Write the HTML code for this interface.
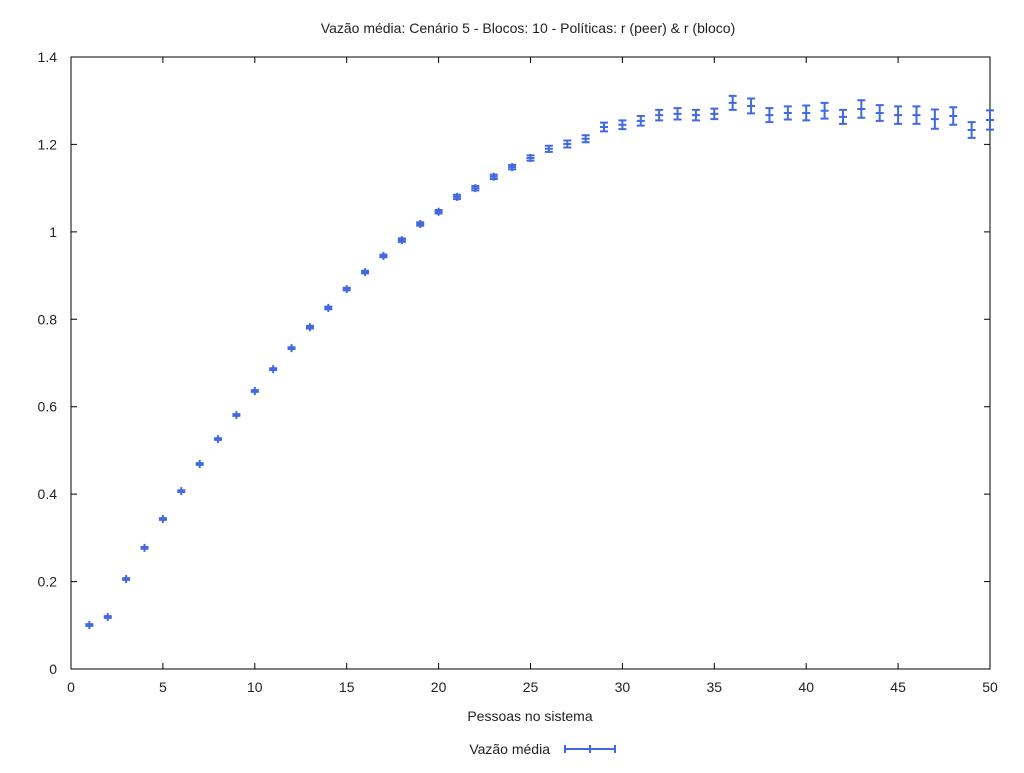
<!DOCTYPE html>
<html><head><meta charset="utf-8"><style>
body{margin:0;background:#fff}
svg text{font-family:"Liberation Sans",sans-serif;font-size:14px;fill:#222}
</style></head><body>
<svg id="c" width="1024" height="768" xmlns="http://www.w3.org/2000/svg">
<text x="528" y="33" text-anchor="middle">Vazão média: Cenário 5 - Blocos: 10 - Políticas: r (peer) &amp; r (bloco)</text>
<rect x="71" y="57" width="919" height="612" fill="none" stroke="#000" stroke-width="1"/>
<g id="ticks"></g>
<g id="marks"></g>
<text x="530" y="721" text-anchor="middle">Pessoas no sistema</text>
<g>
<text x="550" y="754" text-anchor="end">Vazão média</text>
<path d="M565 749H615M565 745V753M615 745V753M590 745V753" stroke="#4169e1" stroke-width="2" fill="none"/>
</g>
</svg>
<script>
const xs=[1,2,3,4,5,6,7,8,9,10,11,12,13,14,15,16,17,18,19,20,21,22,23,24,25,26,27,28,29,30,31,32,33,34,35,36,37,38,39,40,41,42,43,44,45,46,47,48,49,50];
const means=[0.1007,0.119,0.206,0.277,0.343,0.407,0.469,0.526,0.581,0.636,0.686,0.734,0.782,0.826,0.869,0.908,0.945,0.981,1.018,1.046,1.080,1.100,1.126,1.148,1.169,1.190,1.201,1.213,1.240,1.245,1.254,1.267,1.270,1.267,1.270,1.295,1.288,1.267,1.272,1.272,1.277,1.263,1.281,1.272,1.267,1.267,1.258,1.265,1.233,1.256];
const errs=[0.002,0.002,0.002,0.002,0.002,0.002,0.002,0.002,0.002,0.002,0.002,0.002,0.003,0.003,0.003,0.003,0.003,0.004,0.004,0.004,0.005,0.005,0.005,0.005,0.006,0.007,0.008,0.008,0.01,0.01,0.011,0.012,0.013,0.012,0.012,0.016,0.017,0.016,0.015,0.017,0.018,0.016,0.02,0.018,0.02,0.02,0.022,0.02,0.018,0.022];
const xTicks=[0,5,10,15,20,25,30,35,40,45,50];
const yTicks=[0,0.2,0.4,0.6,0.8,1,1.2,1.4];
const yLabels=["0","0.2","0.4","0.6","0.8","1","1.2","1.4"];
const NS="http://www.w3.org/2000/svg";
const X=v=>71+v*919/50, Y=v=>669-v*612/1.4;
const tg=document.getElementById('ticks'), mg=document.getElementById('marks');
function el(t,a,p){const e=document.createElementNS(NS,t);for(const k in a)e.setAttribute(k,a[k]);p.appendChild(e);return e;}
xTicks.forEach(v=>{
 const l=el('path',{d:`M${X(v)} 669v-6M${X(v)} 57v6`,stroke:'#000'},tg);
 
 
 const t=el('text',{x:X(v),y:692,'text-anchor':'middle'},tg);t.textContent=v;
 
 
});
yTicks.forEach((v,i)=>{
 const l=el('path',{d:`M71 ${Y(v)}h6M990 ${Y(v)}h-6`,stroke:'#000'},tg);
 
 
 const t=el('text',{x:57,y:Y(v)+5,'text-anchor':'end'},tg);t.textContent=yLabels[i];
 
 
});
xs.forEach((x,i)=>{
 const cx=X(x),cy=Y(means[i]),t=Y(means[i]+errs[i]),b=Y(means[i]-errs[i]);
 const p=el('path',{d:`M${cx} ${t}V${b}M${cx-4} ${t}h8M${cx-4} ${b}h8M${cx-4} ${cy}h8M${cx} ${cy-4}v8`,stroke:'#4169e1','stroke-width':2,fill:'none'},mg);
 
 
});
</script>
</body></html>
